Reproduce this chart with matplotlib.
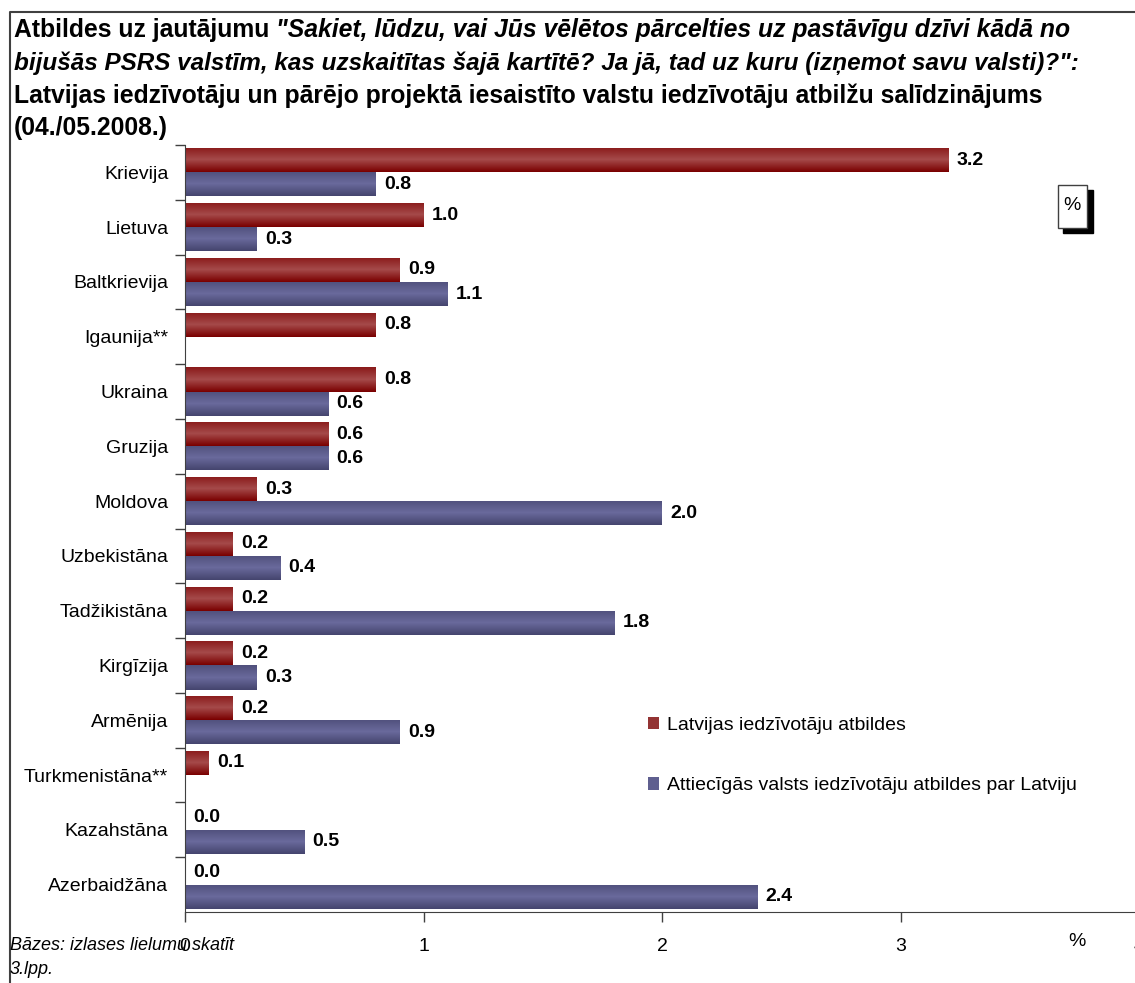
import numpy as np
import matplotlib.pyplot as plt
from matplotlib.patches import Rectangle, Patch
from matplotlib.lines import Line2D
from matplotlib.colors import LinearSegmentedColormap

plt.rcParams['font.family'] = ['Liberation Sans', 'DejaVu Sans']

# data
countries = ['Krievija', 'Lietuva', 'Baltkrievija', 'Igaunija**', 'Ukraina', 'Gruzija',
             'Moldova', 'Uzbekistāna', 'Tadžikistāna', 'Kirgīzija', 'Armēnija',
             'Turkmenistāna**', 'Kazahstāna', 'Azerbaidžāna']
latvia = [3.2, 1.0, 0.9, 0.8, 0.8, 0.6, 0.3, 0.2, 0.2, 0.2, 0.2, 0.1, 0.0, 0.0]
other = [0.8, 0.3, 1.1, np.nan, 0.6, 0.6, 2.0, 0.4, 1.8, 0.3, 0.9, np.nan, 0.5, 2.4]
series_names = ['Latvijas iedzīvotāju atbildes',
                'Attiecīgās valsts iedzīvotāju atbildes par Latviju']
xticks = [0, 1, 2, 3, 4]

red = '#933333'
blue = '#5f5f8f'
red_cm = LinearSegmentedColormap.from_list('r', ['#7a0000', '#a54a4a', '#8a1a1a'])
blue_cm = LinearSegmentedColormap.from_list('b', ['#45456e', '#6a6a9c', '#50507c'])

fig = plt.figure(figsize=(11.35, 9.83), dpi=100)
ax = fig.add_axes([185/1135, 1-912/983, (1139-185)/1135, (912-145)/983])

y = np.arange(len(countries))
h = 0.44
grad = np.linspace(0, 1, 50).reshape(-1, 1)


def draw_bars(vals, off, cmap):
    for yi, v in zip(y, vals):
        if np.isnan(v):
            continue
        b = ax.barh(yi + off, v, height=h, color=cmap(0.5), edgecolor='none')[0]
        if v > 0:
            im = ax.imshow(grad, cmap=cmap, aspect='auto', origin='lower',
                           extent=[0, v, yi + off + h/2, yi + off - h/2], zorder=2)
            im.set_clip_path(b)
        ax.text(v + 0.035, yi + off, '%.1f' % v, va='center', ha='left',
                fontsize=14, fontweight='bold', zorder=3)


draw_bars(latvia, -h/2, red_cm)
draw_bars(other, h/2, blue_cm)

ax.set_xlim(0, 4)
ax.set_ylim(len(countries) - 0.5, -0.5)
ax.set_yticks(y)
ax.set_yticklabels(countries, fontsize=14)
ax.set_yticks(np.arange(-0.5, len(countries) - 0.5), minor=True)
ax.tick_params(axis='y', which='major', length=0, pad=12)
ax.tick_params(axis='y', which='minor', length=7, width=1, color='#404040')
ax.set_xticks(xticks)
ax.set_xticklabels([str(t) for t in xticks], fontsize=14)
ax.tick_params(axis='x', length=7, width=1, color='#404040', pad=12)
for s in ['top', 'right']:
    ax.spines[s].set_visible(False)
for s in ['left', 'bottom']:
    ax.spines[s].set_color('#404040')

handles = [Patch(facecolor=red, edgecolor='none'), Patch(facecolor=blue, edgecolor='none')]
fig.legend(handles, series_names, loc='upper left', bbox_to_anchor=(630/1135, 1-699/983),
           frameon=False, fontsize=14, handlelength=0.6, handleheight=0.6,
           handletextpad=0.4, labelspacing=2.25)

# title
tsize = 17.8
tx = fig.text(14/1135, 1-30/983, 'Atbildes uz jautājumu ', fontsize=tsize,
              fontweight='bold', va='center')
fig.canvas.draw()
bb = tx.get_window_extent()
fig.text(bb.x1/1135, 1-30/983,
         '"Sakiet, lūdzu, vai Jūs vēlētos pārcelties uz pastāvīgu dzīvi kādā no',
         fontsize=tsize, fontweight='bold', style='italic', va='center')
fig.text(14/1135, 1-63/983,
         'bijušās PSRS valstīm, kas uzskaitītas šajā kartītē? Ja jā, tad uz kuru (izņemot savu valsti)?":',
         fontsize=17.5, fontweight='bold', style='italic', va='center')
fig.text(14/1135, 1-96/983,
         'Latvijas iedzīvotāju un pārējo projektā iesaistīto valstu iedzīvotāju atbilžu salīdzinājums',
         fontsize=tsize, fontweight='bold', va='center')
fig.text(14/1135, 1-128/983, '(04./05.2008.)', fontsize=tsize, fontweight='bold', va='center')

# footnote and axis unit
fig.text(10/1135, 1-945/983, 'Bāzes: izlases lielumu skatīt', fontsize=13,
         style='italic', va='center')
fig.text(10/1135, 1-970/983, '3.lpp.', fontsize=13, style='italic', va='center')
fig.text(1077/1135, 1-942/983, '%', fontsize=14, ha='center', va='center')

# % box with shadow
fig.patches.append(Rectangle((1063/1135, 1-233/983), 30/1135, 43/983, transform=fig.transFigure,
                             facecolor='black', edgecolor='black', zorder=5))
fig.patches.append(Rectangle((1058/1135, 1-228/983), 29/1135, 43/983, transform=fig.transFigure,
                             facecolor='white', edgecolor='#404040', lw=1, zorder=6))
fig.text(1072/1135, 1-205/983, '%', fontsize=14, ha='center', va='center', zorder=7)

# outer frame (left and top)
fig.lines.append(Line2D([10/1135, 10/1135, 1], [0, 1-12/983, 1-12/983],
                        transform=fig.transFigure, color='#404040', lw=1.5))

plt.savefig('out.png', dpi=100)
